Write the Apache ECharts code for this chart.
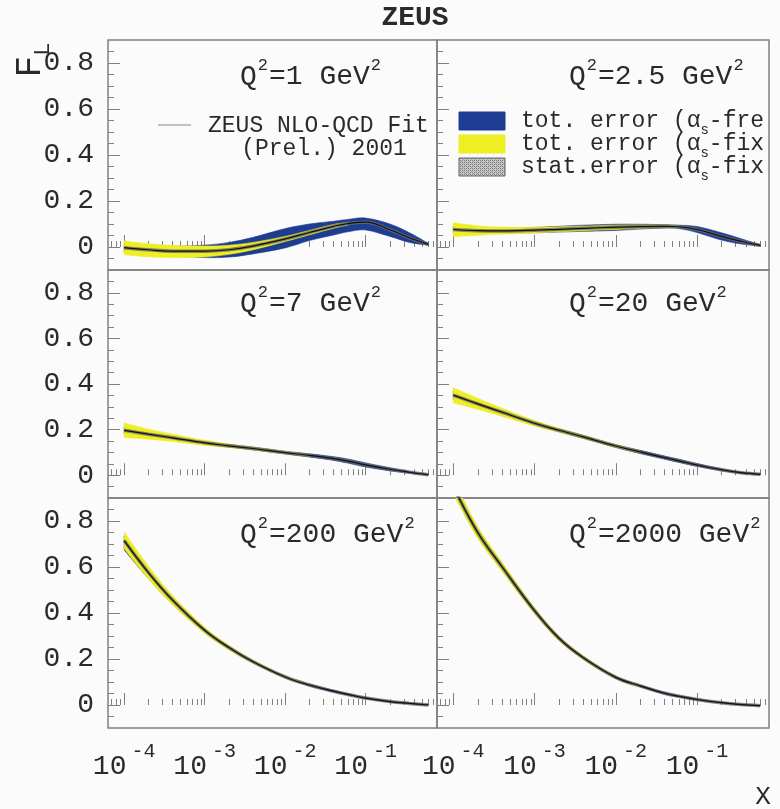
<!DOCTYPE html>
<html><head><meta charset="utf-8">
<script src="https://cdn.jsdelivr.net/npm/echarts@6/dist/echarts.min.js"></script>
<style>html,body{margin:0;padding:0;background:#fbfbfb}#c{width:780px;height:809px}</style>
</head><body><div id="c"></div>
<script>
// ---- data ----
const X = [1e-4, 2e-4, 4e-4, 1e-3, 2e-3, 4e-3, 1e-2, 2e-2, 4e-2, 6e-2, 0.1, 0.2, 0.35, 0.6];
const Q2_LABELS = ['1', '2.5', '7', '20', '200', '2000'];

const C_Q1   = [-0.003, -0.012, -0.018, -0.018, -0.012, 0.004, 0.035, 0.063, 0.090, 0.102, 0.108, 0.075, 0.040, 0.012];
const BLO_Q1 = [-0.022, -0.030, -0.038, -0.046, -0.044, -0.030, -0.004, 0.028, 0.052, 0.066, 0.074, 0.046, 0.020, 0.008];
const BHI_Q1 = [0.012, 0.006, 0.003, 0.008, 0.020, 0.042, 0.080, 0.100, 0.112, 0.120, 0.126, 0.100, 0.062, 0.016];
const YLO_Q1 = [-0.034, -0.042, -0.046, -0.043, -0.032, -0.012, 0.024, 0.053, 0.082, 0.095, null, null, null, null];
const YHI_Q1 = [0.026, 0.014, 0.007, 0.004, 0.008, 0.020, 0.046, 0.072, 0.098, 0.106, null, null, null, null];

const C_Q2   = [0.076, 0.071, 0.070, 0.073, 0.077, 0.081, 0.086, 0.089, 0.090, 0.088, 0.076, 0.046, 0.025, 0.007];
const BLO_Q2 = [0.062, 0.060, 0.060, 0.062, 0.065, 0.068, 0.072, 0.078, 0.082, 0.080, 0.063, 0.030, 0.013, 0.004];
const BHI_Q2 = [0.090, 0.083, 0.081, 0.085, 0.090, 0.095, 0.099, 0.099, 0.097, 0.095, 0.089, 0.062, 0.036, 0.010];
const YLO_Q2 = [0.045, 0.051, 0.056, 0.061, 0.066, 0.071, 0.076, 0.081, 0.084, 0.084, null, null, null, null];
const YHI_Q2 = [0.105, 0.092, 0.086, 0.086, 0.088, 0.091, 0.095, 0.096, 0.095, 0.093, null, null, null, null];

const C_Q7   = [0.197, 0.180, 0.164, 0.142, 0.129, 0.117, 0.099, 0.087, 0.073, 0.062, 0.045, 0.026, 0.013, 0.002];
const BLO_Q7 = [0.182, 0.168, 0.154, 0.135, 0.123, 0.111, 0.093, 0.080, 0.065, 0.053, 0.036, 0.019, 0.009, 0.000];
const BHI_Q7 = [0.212, 0.192, 0.174, 0.149, 0.135, 0.123, 0.105, 0.094, 0.081, 0.071, 0.054, 0.033, 0.017, 0.004];
const YLO_Q7 = [0.165, 0.158, 0.148, 0.131, 0.121, 0.111, 0.094, 0.083, null, null, null, null, null, null];
const YHI_Q7 = [0.229, 0.202, 0.180, 0.153, 0.137, 0.123, 0.104, 0.091, null, null, null, null, null, null];

const C_Q20   = [0.351, 0.313, 0.276, 0.228, 0.197, 0.168, 0.128, 0.102, 0.077, 0.063, 0.045, 0.024, 0.011, 0.004];
const BLO_Q20 = [0.331, 0.298, 0.265, 0.220, 0.190, 0.161, 0.122, 0.095, 0.070, 0.056, 0.039, 0.020, 0.008, 0.002];
const BHI_Q20 = [0.371, 0.328, 0.287, 0.236, 0.204, 0.175, 0.134, 0.109, 0.084, 0.070, 0.051, 0.028, 0.014, 0.006];
const YLO_Q20 = [0.318, 0.289, 0.258, 0.216, 0.188, 0.161, 0.122, 0.097, null, null, null, null, null, null];
const YHI_Q20 = [0.384, 0.337, 0.294, 0.240, 0.206, 0.175, 0.134, 0.107, null, null, null, null, null, null];

const C_Q200   = [0.715, 0.576, 0.456, 0.325, 0.250, 0.188, 0.122, 0.087, 0.060, 0.046, 0.030, 0.015, 0.007, 0.000];
const BLO_Q200 = [0.674, 0.550, 0.438, 0.315, 0.243, 0.183, 0.118, 0.083, 0.056, 0.043, 0.027, 0.013, 0.005, -0.002];
const BHI_Q200 = [0.735, 0.592, 0.466, 0.331, 0.255, 0.192, 0.126, 0.091, 0.064, 0.050, 0.033, 0.017, 0.009, 0.002];
const YLO_Q200 = [0.679, 0.549, 0.436, 0.312, 0.240, 0.181, 0.117, 0.083, null, null, null, null, null, null];
const YHI_Q200 = [0.752, 0.604, 0.476, 0.338, 0.260, 0.195, 0.127, 0.091, null, null, null, null, null, null];

const C_Q2000   = [0.950, 0.750, 0.600, 0.410, 0.290, 0.205, 0.120, 0.083, 0.051, 0.038, 0.024, 0.010, 0.002, -0.003];
const BLO_Q2000 = [0.922, 0.730, 0.585, 0.400, 0.282, 0.199, 0.115, 0.079, 0.047, 0.035, 0.021, 0.008, 0.000, -0.004];
const BHI_Q2000 = [0.975, 0.768, 0.613, 0.419, 0.297, 0.211, 0.125, 0.087, 0.055, 0.041, 0.027, 0.012, 0.004, -0.002];
const YLO_Q2000 = [0.918, 0.725, 0.580, 0.397, 0.280, 0.197, 0.115, 0.079, null, null, null, null, null, null];
const YHI_Q2000 = [0.982, 0.775, 0.620, 0.423, 0.300, 0.213, 0.125, 0.087, null, null, null, null, null, null];

const X_TICKS = [1e-4, 1e-3, 1e-2, 1e-1];
const Y_TICKS = [0, 0.2, 0.4, 0.6, 0.8];
const Y_MINOR = [-0.05, 0.05, 0.1, 0.15, 0.25, 0.3, 0.35, 0.45, 0.5, 0.55, 0.65, 0.7, 0.75, 0.85];
const LEGEND_LABELS = ['tot. error (α', 'tot. error (α', 'stat.error (α'];
const LEGEND_TAILS = ['-fre', '-fix', '-fix'];

// ---- layout / style ----
const PANELS = [
  {c: C_Q1, blo: BLO_Q1, bhi: BHI_Q1, ylo: YLO_Q1, yhi: YHI_Q1},
  {c: C_Q2, blo: BLO_Q2, bhi: BHI_Q2, ylo: YLO_Q2, yhi: YHI_Q2},
  {c: C_Q7, blo: BLO_Q7, bhi: BHI_Q7, ylo: YLO_Q7, yhi: YHI_Q7},
  {c: C_Q20, blo: BLO_Q20, bhi: BHI_Q20, ylo: YLO_Q20, yhi: YHI_Q20},
  {c: C_Q200, blo: BLO_Q200, bhi: BHI_Q200, ylo: YLO_Q200, yhi: YHI_Q200},
  {c: C_Q2000, blo: BLO_Q2000, bhi: BHI_Q2000, ylo: YLO_Q2000, yhi: YHI_Q2000}
];
const X_MINOR = [];
[-5, -4, -3, -2, -1].forEach(e => { for (let k = 2; k <= 9; k++) { const v = k * Math.pow(10, e); if (v > 6.5e-5 && v < 0.76) X_MINOR.push(v); } });

const FONT = "'Liberation Mono', 'Courier New', monospace";
const TXT = '#2a2a2a';
const FRAME = '#808080';
const BLUE = '#1d3d93';
const YELLOW = '#eeee22';
const XMIN = 6.3e-5, XMAX = 0.77;
const COL_LEFT = [108, 437], COL_W = [329, 332];
const ROW_TOP = [40, 270, 498], ROW_H = [230, 228, 230];
const LABEL_Y = [74, 301, 532];

// hatched fill for the stat-error swatch
const hatch = document.createElement('canvas');
hatch.width = 4; hatch.height = 4;
(function () {
  const g = hatch.getContext('2d');
  g.fillStyle = '#c8c8c8'; g.fillRect(0, 0, 4, 4);
  g.fillStyle = '#7a7a7a'; g.fillRect(0, 0, 1, 1); g.fillRect(2, 2, 1, 1); g.fillRect(2, 0, 1, 1); g.fillRect(0, 2, 1, 1);
  g.fillStyle = '#a0a0a0'; g.fillRect(1, 1, 1, 1); g.fillRect(3, 3, 1, 1);
})();

// smooth path through pixel points (Catmull-Rom -> cubic Bezier)
function curveSeg(pts) {
  let d = '';
  for (let i = 0; i < pts.length - 1; i++) {
    const p0 = pts[i - 1] || pts[i], p1 = pts[i], p2 = pts[i + 1], p3 = pts[i + 2] || pts[i + 1];
    const c1x = p1[0] + (p2[0] - p0[0]) / 6, c1y = p1[1] + (p2[1] - p0[1]) / 6;
    const c2x = p2[0] - (p3[0] - p1[0]) / 6, c2y = p2[1] - (p3[1] - p1[1]) / 6;
    d += ' C' + c1x + ' ' + c1y + ' ' + c2x + ' ' + c2y + ' ' + p2[0] + ' ' + p2[1];
  }
  return d;
}

const grids = [], xAxes = [], yAxes = [], series = [];
PANELS.forEach((p, gi) => {
  const col = gi % 2, row = Math.floor(gi / 2);
  grids.push({left: COL_LEFT[col], top: ROW_TOP[row], width: COL_W[col], height: ROW_H[row],
    show: true, borderColor: FRAME, borderWidth: 1.5, backgroundColor: 'transparent'});
  xAxes.push({type: 'log', gridIndex: gi, position: 'bottom', min: XMIN, max: XMAX,
    axisLine: {show: false}, splitLine: {show: false},
    axisTick: {show: true, inside: true, length: 12, customValues: X_TICKS, lineStyle: {color: FRAME, width: 1}},
    axisLabel: {show: row === 2, customValues: X_TICKS, margin: 14, color: TXT, fontFamily: FONT,
      formatter: v => '{b|10}{s|' + Math.round(Math.log10(v)) + '}',
      rich: {b: {fontSize: 28, lineHeight: 28, fontFamily: FONT, color: TXT, verticalAlign: 'bottom'},
             s: {fontSize: 20, fontFamily: FONT, color: TXT, verticalAlign: 'top', padding: [0, 0, 19, 5]}}}
  });
  xAxes.push({type: 'log', gridIndex: gi, position: 'bottom', min: XMIN, max: XMAX,
    axisLine: {show: false}, splitLine: {show: false}, axisLabel: {show: false},
    axisTick: {show: true, inside: true, length: 6, customValues: X_MINOR, lineStyle: {color: FRAME, width: 1}}});
  yAxes.push({type: 'value', gridIndex: gi, position: 'left', min: -0.1, max: 0.9,
    axisLine: {show: false}, splitLine: {show: false},
    axisTick: {show: true, inside: true, length: 12, customValues: Y_TICKS, lineStyle: {color: FRAME, width: 1}},
    axisLabel: {show: col === 0, customValues: Y_TICKS, margin: 14, fontSize: 28, fontFamily: FONT, color: TXT,
      formatter: v => v === 0 ? '0' : v.toFixed(1)}});
  yAxes.push({type: 'value', gridIndex: gi, position: 'left', min: -0.1, max: 0.9,
    axisLine: {show: false}, splitLine: {show: false}, axisLabel: {show: false},
    axisTick: {show: true, inside: true, length: 6, customValues: Y_MINOR, lineStyle: {color: FRAME, width: 1}}});

  const xi = gi * 2, yi = gi * 2;
  const band = (lo, hi, color, z) => {
    const rows = [];
    X.forEach((x, i) => { if (lo[i] != null && hi[i] != null) rows.push([x, lo[i], hi[i]]); });
    series.push({type: 'custom', coordinateSystem: 'cartesian2d', xAxisIndex: xi, yAxisIndex: yi, z, silent: true,
      animation: false, data: rows, encode: {x: 0, y: [1, 2]},
      renderItem: (params, api) => {
        if (params.dataIndex !== 0) return null;
        const up = rows.map(r => api.coord([r[0], r[2]]));
        const dn = rows.map(r => api.coord([r[0], r[1]])).reverse();
        const d = 'M' + up[0][0] + ' ' + up[0][1] + curveSeg(up) + ' L' + dn[0][0] + ' ' + dn[0][1] + curveSeg(dn) + ' Z';
        const cs = params.coordSys;
        return {type: 'path', shape: {pathData: d}, style: {fill: color, stroke: color, lineWidth: 0.6},
          clipPath: {type: 'rect', shape: {x: cs.x, y: cs.y, width: cs.width, height: cs.height}}};
      }});
  };
  band(p.blo, p.bhi, BLUE, 2);
  band(p.ylo, p.yhi, YELLOW, 3);
  series.push({type: 'line', xAxisIndex: xi, yAxisIndex: yi, symbol: 'none', smooth: 0.4, silent: true, z: 4,
    animation: false, data: X.map((x, i) => [x, p.c[i]]), lineStyle: {color: '#6a6a6a', width: 3.5, opacity: 0.8}});
  series.push({type: 'line', xAxisIndex: xi, yAxisIndex: yi, symbol: 'none', smooth: 0.4, silent: true, z: 5,
    animation: false, data: X.map((x, i) => [x, p.c[i]]), lineStyle: {color: '#111', width: 1.2}});
});

const graphics = [];
graphics.push({type: 'text', x: 415, y: 18, style: {text: 'ZEUS', font: 'bold 28px ' + FONT, fill: TXT, align: 'center', verticalAlign: 'middle'}});
graphics.push({type: 'text', x: 33, y: 60, rotation: Math.PI / 2, style: {text: '{f|F}{l|L}', align: 'center', verticalAlign: 'middle',
  rich: {f: {fontSize: 36, lineHeight: 36, fontFamily: FONT, fill: TXT, verticalAlign: 'top'},
         l: {fontSize: 22, fontFamily: FONT, fill: TXT, verticalAlign: 'top', padding: [20, 0, 0, 0]}}}});
graphics.push({type: 'text', x: 763, y: 797, style: {text: 'X', font: '26px ' + FONT, fill: TXT, align: 'center', verticalAlign: 'middle'}});
Q2_LABELS.forEach((q, gi) => {
  const col = gi % 2, row = Math.floor(gi / 2);
  graphics.push({type: 'text', x: COL_LEFT[col] + 132, y: LABEL_Y[row], style: {
    text: '{q|Q}{s|2}{q|=' + q + ' GeV}{s|2}', align: 'left', verticalAlign: 'middle',
    rich: {q: {fontSize: 28, lineHeight: 30, fontFamily: FONT, fill: TXT, verticalAlign: 'bottom'},
           s: {fontSize: 17, fontFamily: FONT, fill: TXT, verticalAlign: 'top', padding: [0, 1, 17, 1]}}}});
});
// left legend (fit line)
graphics.push({type: 'line', shape: {x1: 158, y1: 125, x2: 191, y2: 125}, style: {stroke: '#8a8a8a', lineWidth: 1.2}});
graphics.push({type: 'text', x: 208, y: 126, style: {text: 'ZEUS NLO-QCD Fit', font: '23px ' + FONT, fill: TXT, verticalAlign: 'middle'}});
graphics.push({type: 'text', x: 324, y: 149, style: {text: '(Prel.) 2001', font: '23px ' + FONT, fill: TXT, align: 'center', verticalAlign: 'middle'}});
// right legend (bands)
const SW_FILL = [BLUE, YELLOW, {image: hatch, repeat: 'repeat'}];
const SW_Y = [112, 135, 158];
LEGEND_LABELS.forEach((t, i) => {
  graphics.push({type: 'rect', z: 10, shape: {x: 459, y: SW_Y[i], width: 46, height: 18},
    style: {fill: SW_FILL[i], stroke: i === 2 ? '#666' : SW_FILL[i], lineWidth: 1}});
  graphics.push({type: 'text', z: 10, x: 521, y: SW_Y[i] + 9, style: {
    text: '{t|' + t + '}{s|s}{t|' + LEGEND_TAILS[i] + '}', verticalAlign: 'middle',
    rich: {t: {fontSize: 23, lineHeight: 24, fontFamily: FONT, fill: TXT, verticalAlign: 'top'},
           s: {fontSize: 14, lineHeight: 14, fontFamily: FONT, fill: TXT, verticalAlign: 'top', padding: [14, 0, 0, 0]}}}});
});

const chart = echarts.init(document.getElementById('c'), null, {renderer: 'canvas', devicePixelRatio: 1});
chart.setOption({
  backgroundColor: '#fbfbfb',
  animation: false,
  grid: grids, xAxis: xAxes, yAxis: yAxes, series,
  graphic: graphics
});
</script></body></html>
